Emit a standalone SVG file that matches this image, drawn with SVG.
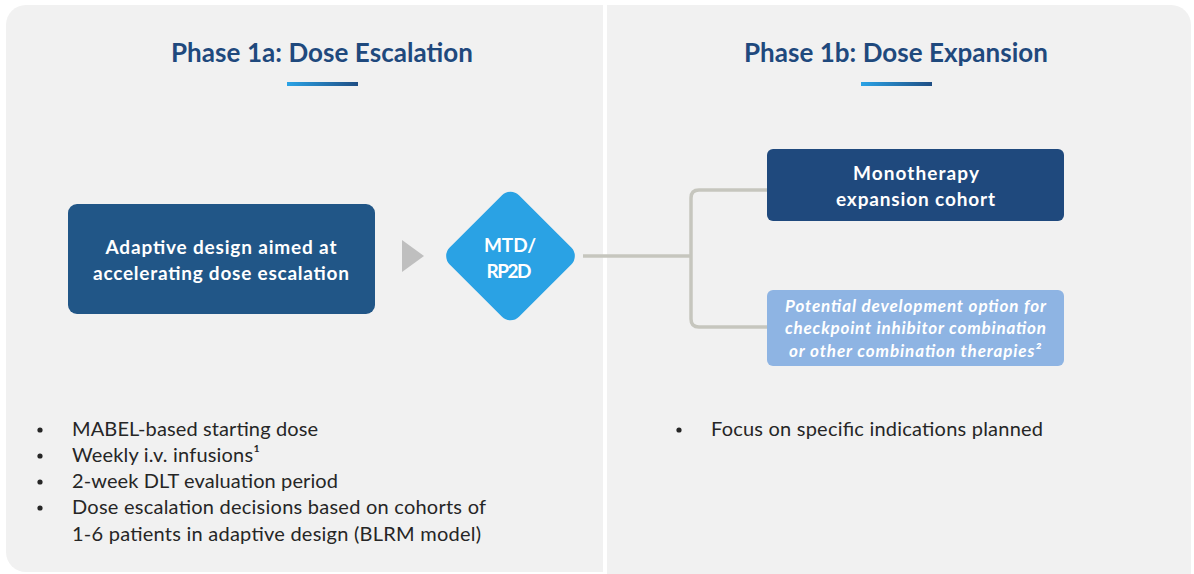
<svg xmlns="http://www.w3.org/2000/svg" width="1194" height="574" viewBox="0 0 1194 574">
<style>
.panel{fill:#f1f1f1}
.title{font-family:Lato,"Open Sans","Liberation Sans",sans-serif;font-weight:bold;font-size:26px;fill:#1f497d;text-anchor:middle}
.boxt{font-family:Lato,"Open Sans","Liberation Sans",sans-serif;font-weight:bold;font-size:19px;fill:#ffffff;text-anchor:middle}
.itx{font-family:Lato,"Open Sans","Liberation Sans",sans-serif;font-weight:bold;font-style:italic;font-size:17px;fill:#ffffff;text-anchor:middle}
.bul{font-family:Lato,"Open Sans","Liberation Sans",sans-serif;font-size:20px;fill:#262626}
.conn{fill:none;stroke:#c6c6be;stroke-width:3.5;stroke-linejoin:round}
</style>
<defs>
<linearGradient id="bar" x1="0" y1="0" x2="1" y2="0">
<stop offset="0" stop-color="#2aa3e6"/>
<stop offset="1" stop-color="#1f4e84"/>
</linearGradient>
</defs>
<rect width="1194" height="574" fill="#ffffff"/>
<path class="panel" d="M603 5 H26 A20 20 0 0 0 6 25 V552 A20 20 0 0 0 26 572 H603 Z"/>
<path class="panel" d="M607 5 H1171 A20 20 0 0 1 1191 25 V574 H607 Z"/>

<g id="title-1a">
<text class="title" x="322" y="62" textLength="302" lengthAdjust="spacing">Phase 1a: Dose Escalation</text>
<rect x="287" y="82" width="71" height="4" fill="url(#bar)"/>
</g>
<g id="title-1b">
<text class="title" x="896" y="62" textLength="304" lengthAdjust="spacing">Phase 1b: Dose Expansion</text>
<rect x="861" y="82" width="71" height="4" fill="url(#bar)"/>
</g>

<g id="connectors">
<polygon points="402,240 424,256 402,272" fill="#bfbfbf"/>
<path class="conn" d="M583 256 H691"/>
<path class="conn" d="M767 190 H699 Q691 190 691 198 V319 Q691 327 699 327 H767"/>
</g>

<g id="adaptive">
<rect x="68" y="204" width="307" height="110" rx="9" fill="#215687"/>
<text class="boxt" x="221" y="254" textLength="231" lengthAdjust="spacing">Adaptive design aimed at</text>
<text class="boxt" x="221" y="280" textLength="256" lengthAdjust="spacing">accelerating dose escalation</text>
</g>

<g id="mtd">
<rect x="461.5" y="207" width="98" height="98" rx="12" fill="#2aa2e4" transform="rotate(45 510.5 256)"/>
<text class="boxt" x="510" y="252" textLength="52" lengthAdjust="spacing">MTD/</text>
<text class="boxt" x="509" y="278" textLength="45" lengthAdjust="spacing">RP2D</text>
</g>

<g id="mono">
<rect x="767" y="149" width="297" height="72" rx="6" fill="#1f497d"/>
<text class="boxt" x="916" y="180" textLength="126" lengthAdjust="spacing">Monotherapy</text>
<text class="boxt" x="915.5" y="206" textLength="159" lengthAdjust="spacing">expansion cohort</text>
</g>

<g id="combo">
<rect x="767" y="290" width="297" height="76" rx="6" fill="#8eb4e3"/>
<text class="itx" x="915.5" y="312" textLength="261" lengthAdjust="spacing">Potential development option for</text>
<text class="itx" x="915.5" y="334" textLength="261" lengthAdjust="spacing">checkpoint inhibitor combination</text>
<text class="itx" x="915" y="357" textLength="252" lengthAdjust="spacing">or other combination therapies²</text>
</g>

<g id="bullets-1a">
<circle cx="40" cy="430" r="2.6" fill="#262626"/>
<circle cx="40" cy="456" r="2.6" fill="#262626"/>
<circle cx="40" cy="482" r="2.6" fill="#262626"/>
<circle cx="40" cy="508" r="2.6" fill="#262626"/>
<text class="bul" x="72" y="436" textLength="246" lengthAdjust="spacing">MABEL-based starting dose</text>
<text class="bul" x="72" y="462" textLength="188" lengthAdjust="spacing">Weekly i.v. infusions¹</text>
<text class="bul" x="72" y="488" textLength="266" lengthAdjust="spacing">2-week DLT evaluation period</text>
<text class="bul" x="72" y="514" textLength="414" lengthAdjust="spacing">Dose escalation decisions based on cohorts of</text>
<text class="bul" x="72" y="541" textLength="409" lengthAdjust="spacing">1-6 patients in adaptive design (BLRM model)</text>
</g>

<g id="bullets-1b">
<circle cx="679" cy="430" r="2.6" fill="#262626"/>
<text class="bul" x="711" y="436" textLength="332" lengthAdjust="spacing">Focus on specific indications planned</text>
</g>
</svg>
